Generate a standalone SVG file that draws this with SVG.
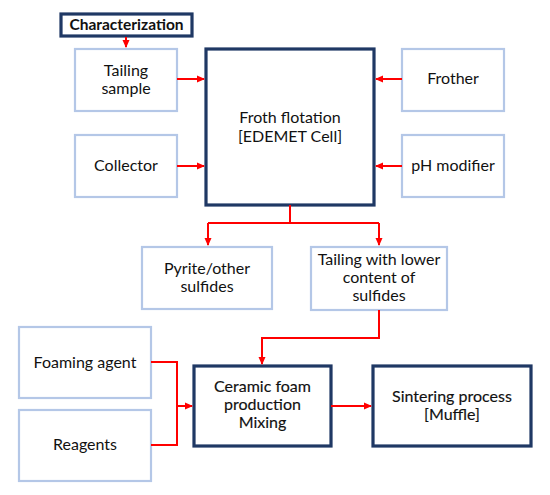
<svg xmlns="http://www.w3.org/2000/svg" width="550" height="495" viewBox="0 0 550 495">
<defs>
<marker id="ah" markerWidth="8" markerHeight="8" refX="7" refY="4" orient="auto" markerUnits="userSpaceOnUse">
<path d="M0,0.5 L8,4 L0,7.5 Z" fill="#FF0000"/>
</marker>
<style>
.lt{fill:#fff;stroke:#B4C7E7;stroke-width:2.2}
.dk{fill:#fff;stroke:#1F3864;stroke-width:3.2}
text{font-family:Lato,"Noto Sans","Liberation Sans",sans-serif;font-size:16px;fill:#111;text-anchor:middle}
.b{font-weight:bold;font-size:15.5px}
.m{stroke:#111;stroke-width:0.15}
.c{fill:none;stroke:#FF0000;stroke-width:2}
</style>
</defs>
<rect width="550" height="495" fill="#fff"/>
<g id="characterization"><rect class="dk" x="61" y="14" width="131" height="22"/><text class="b" x="126.5" y="30">Characterization</text></g>
<g id="tailing-sample"><rect class="lt" x="75" y="49" width="102" height="62"/><text x="126" y="76">Tailing</text><text x="126" y="94">sample</text></g>
<g id="collector"><rect class="lt" x="75" y="135" width="102" height="62"/><text x="126" y="171">Collector</text></g>
<g id="froth-flotation"><rect class="dk" x="206" y="49" width="168" height="156"/><text x="290" y="123">Froth flotation</text><text x="290" y="142">[EDEMET Cell]</text></g>
<g id="frother"><rect class="lt" x="402" y="49" width="102" height="62"/><text x="453" y="84">Frother</text></g>
<g id="ph-modifier"><rect class="lt" x="402" y="135" width="102" height="62"/><text x="453" y="171">pH modifier</text></g>
<g id="pyrite"><rect class="lt" x="142" y="247" width="130" height="62"/><text x="207" y="274">Pyrite/other</text><text x="207" y="292">sulfides</text></g>
<g id="tailing-lower"><rect class="lt" x="311" y="247" width="136" height="63"/><text x="379" y="265">Tailing with lower</text><text x="379" y="283">content of</text><text x="379" y="301">sulfides</text></g>
<g id="foaming-agent"><rect class="lt" x="19" y="327" width="132" height="71"/><text x="85" y="368">Foaming agent</text></g>
<g id="reagents"><rect class="lt" x="19" y="410" width="132" height="71"/><text x="85" y="450">Reagents</text></g>
<g id="ceramic-foam"><rect class="dk" x="194" y="366" width="137" height="80"/><text class="m" x="262.5" y="392">Ceramic foam</text><text class="m" x="262.5" y="410">production</text><text class="m" x="262.5" y="428">Mixing</text></g>
<g id="sintering"><rect class="dk" x="373" y="366" width="158" height="80"/><text class="m" x="452" y="402">Sintering process</text><text class="m" x="452" y="420">[Muffle]</text></g>
<g id="connectors">
<path class="c" d="M126,37 V47" marker-end="url(#ah)"/>
<path class="c" d="M177,79 H204" marker-end="url(#ah)"/>
<path class="c" d="M177,166 H204" marker-end="url(#ah)"/>
<path class="c" d="M402,79 H376" marker-end="url(#ah)"/>
<path class="c" d="M402,166 H376" marker-end="url(#ah)"/>
<path class="c" d="M290,205 V223"/>
<path class="c" d="M208,223 H379"/>
<path class="c" d="M208,223 V245" marker-end="url(#ah)"/>
<path class="c" d="M379,223 V245" marker-end="url(#ah)"/>
<path class="c" d="M379,310 V338 H262 V364" marker-end="url(#ah)"/>
<path class="c" d="M151,362 H177 V445 H151"/>
<path class="c" d="M177,406 H192" marker-end="url(#ah)"/>
<path class="c" d="M331,406 H371" marker-end="url(#ah)"/>
</g>
</svg>
